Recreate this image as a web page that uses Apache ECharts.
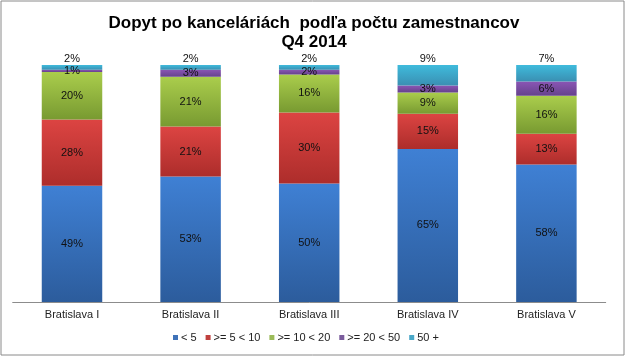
<!DOCTYPE html>
<html>
<head>
<meta charset="utf-8">
<script src="https://cdn.jsdelivr.net/npm/echarts@6/dist/echarts.min.js"></script>
<style>html,body{margin:0;padding:0;background:#fff;}#c{width:628px;height:356px;}</style>
</head>
<body>
<div id="c"></div>
<script>
const categories = ['Bratislava I', 'Bratislava II', 'Bratislava III', 'Bratislava IV', 'Bratislava V'];
const seriesNames = ['< 5', '>= 5 < 10', '>= 10 < 20', '>= 20 < 50', '50 +'];
const lt5 = [49, 53, 50, 64.6, 58];
const from5to10 = [28, 21, 30, 14.8, 13];
const from10to20 = [20, 21, 16, 9.0, 16];
const from20to50 = [1, 3, 2, 2.9, 6];
const over50 = [2, 2, 2, 8.7, 7];
const seriesData = [lt5, from5to10, from10to20, from20to50, over50];

const gradients = [
  ['#3f80d4', '#2c5c9c'],
  ['#dc4442', '#ad2d2b'],
  ['#aacd4c', '#789a31'],
  ['#8a55b4', '#65428c'],
  ['#3fbbdc', '#3a8fb2']
];
const legendColors = ['#3f72b8', '#c0403e', '#9bbb59', '#7a5c9c', '#4aa8c8'];

const font = 'Liberation Sans, Arial, sans-serif';
const chart = echarts.init(document.getElementById('c'));
chart.setOption({
  animation: false,
  backgroundColor: '#fff',
  title: {
    text: 'Dopyt po kanceláriách  podľa počtu zamestnancov\nQ4 2014',
    left: 'center',
    top: 14,
    padding: 0,
    textStyle: { fontFamily: font, fontSize: 17, fontWeight: 'bold', color: '#000', lineHeight: 19 }
  },
  graphic: [{
    type: 'rect', shape: { x: 1, y: 1, width: 623, height: 354 },
    style: { fill: 'none', stroke: '#8a8a8a', lineWidth: 1 }, silent: true, z: 100
  }],
  legend: {
    top: 332,
    left: 173,
    padding: 0,
    itemWidth: 5, itemHeight: 5, itemGap: 9,
    icon: 'rect',
    textStyle: { fontFamily: font, fontSize: 11, color: '#222', padding: [0, 0, 0, -2] },
    data: seriesNames.map((n, i) => ({ name: n, itemStyle: { color: legendColors[i] } }))
  },
  grid: { left: 12.7, right: 22.3, top: 65, bottom: 54, containLabel: false },
  xAxis: {
    type: 'category',
    data: categories,
    axisLine: { lineStyle: { color: '#8c8c8c', width: 1 } },
    axisTick: { show: false },
    axisLabel: { fontFamily: font, fontSize: 11, color: '#222', margin: 7 }
  },
  yAxis: { type: 'value', min: 0, max: 100, show: false, splitLine: { show: false } },
  series: seriesNames.map((n, i) => ({
    name: n,
    type: 'bar',
    stack: 'total',
    barCategoryGap: '49%',
    data: seriesData[i],
    itemStyle: {
      color: new echarts.graphic.LinearGradient(0, 0, 0, 1, [
        { offset: 0, color: gradients[i][0] },
        { offset: 1, color: gradients[i][1] }
      ])
    },
    label: {
      show: true,
      position: i === 4 ? 'top' : 'inside',
      distance: 1,
      fontFamily: font,
      fontSize: 11,
      color: '#111',
      formatter: p => Math.round(p.value) + '%'
    }
  }))
});
</script>
</body>
</html>
